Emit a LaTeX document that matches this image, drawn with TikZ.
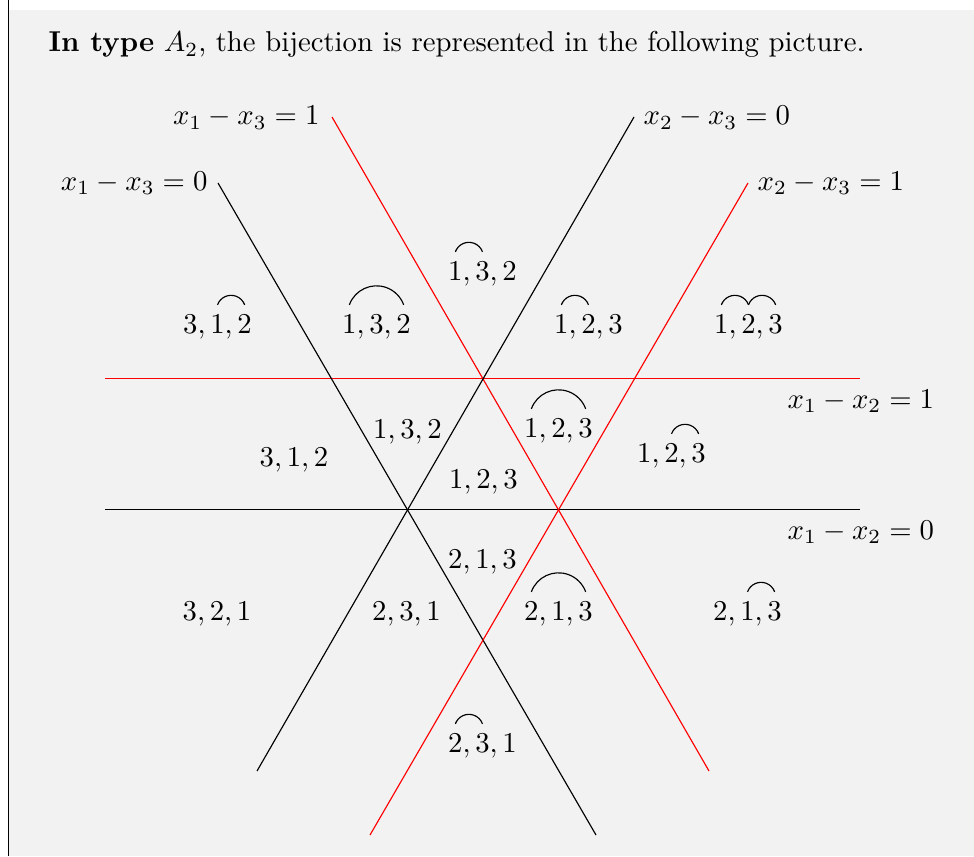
\documentclass[tikz,border=0pt]{standalone}
\begin{document}
\begin{tikzpicture}[x=0.348pt,y=-0.348pt,
  lab/.style={inner sep=0pt,anchor=base},
  eqlab/.style={inner sep=0pt},
  arcl/.style={draw=black,line width=0.4pt},
  blk/.style={draw=black,line width=0.4pt},
  redl/.style={draw=red,line width=0.4pt}]
\newcommand\myarcAB[1]{\draw[arcl] ([shift={(-9.45pt,9.8pt)}]#1.base) arc[start angle=160,end angle=20,radius=5.03pt];}
\newcommand\myarcBC[1]{\draw[arcl] ([shift={(0pt,9.8pt)}]#1.base) arc[start angle=160,end angle=20,radius=5.03pt];}
\newcommand\myarcAC[1]{\draw[arcl] ([shift={(-9.45pt,9.8pt)}]#1.base) arc[start angle=160,end angle=20,radius=10.06pt];}
\useasboundingbox (0,0) rectangle (974,856);
\fill[white] (0,0) rectangle (974,856);
\fill[black!5] (9,10) rectangle (974,856);
\draw[black,line width=0.4pt] (8.5,0) -- (8.5,856);
% title
\node[eqlab,anchor=base west] (title) at (48,52) {\textbf{In type} $A_2$, the bijection is represented in the following picture.};
% lines
\coordinate (h0a) at (105,509.5); \coordinate (h0b) at (860,509.5);
\coordinate (h1a) at (105,378.5); \coordinate (h1b) at (860,378.5);
\coordinate (l13a) at (218,183); \coordinate (l13b) at (596,835);
\coordinate (l13ra) at (332,117); \coordinate (l13rb) at (709,771);
\coordinate (l23a) at (634,117); \coordinate (l23b) at (257,771);
\coordinate (l23ra) at (748,183); \coordinate (l23rb) at (370,835);
\draw[blk] (h0a) -- (h0b);
\draw[redl] (h1a) -- (h1b);
\draw[blk] (l13a) -- (l13b);
\draw[redl] (l13ra) -- (l13rb);
\draw[blk] (l23a) -- (l23b);
\draw[redl] (l23ra) -- (l23rb);
% line labels
\node[eqlab,anchor=base east] (e13one) at (320,125) {$x_1-x_3=1$};
\node[eqlab,anchor=base east] (e13zero) at (208,190) {$x_1-x_3=0$};
\node[eqlab,anchor=base west] (e23zero) at (643,125) {$x_2-x_3=0$};
\node[eqlab,anchor=base west] (e23one) at (757,190) {$x_2-x_3=1$};
\node[eqlab,anchor=base west] (e12one) at (787,408) {$x_1-x_2=1$};
\node[eqlab,anchor=base west] (e12zero) at (787,539) {$x_1-x_2=0$};
% region labels
\node[lab] (a1) at (217.5,333) {$3,1,2$}; \myarcBC{a1}
\node[lab] (a2) at (376.5,333) {$1,3,2$}; \myarcAC{a2}
\node[lab] (a3) at (482.5,280) {$1,3,2$}; \myarcAB{a3}
\node[lab] (a4) at (588.5,333) {$1,2,3$}; \myarcAB{a4}
\node[lab] (a5) at (748.5,333) {$1,2,3$}; \myarcAB{a5}\myarcBC{a5}
\node[lab] (b1) at (294,466) {$3,1,2$};
\node[lab] (b2) at (407.5,438) {$1,3,2$};
\node[lab] (b3) at (558.5,437) {$1,2,3$}; \myarcAC{b3}
\node[lab] (b4) at (671.5,462) {$1,2,3$}; \myarcBC{b4}
\node[lab] (b5) at (483.5,488) {$1,2,3$};
\node[lab] (c1) at (482.5,568) {$2,1,3$};
\node[lab] (c2) at (217,620) {$3,2,1$};
\node[lab] (c3) at (406.5,620) {$2,3,1$};
\node[lab] (c4) at (558.5,620) {$2,1,3$}; \myarcAC{c4}
\node[lab] (c5) at (747.5,620) {$2,1,3$}; \myarcBC{c5}
\node[lab] (d1) at (482.5,752) {$2,3,1$}; \myarcAB{d1}
\end{tikzpicture}
\end{document}
